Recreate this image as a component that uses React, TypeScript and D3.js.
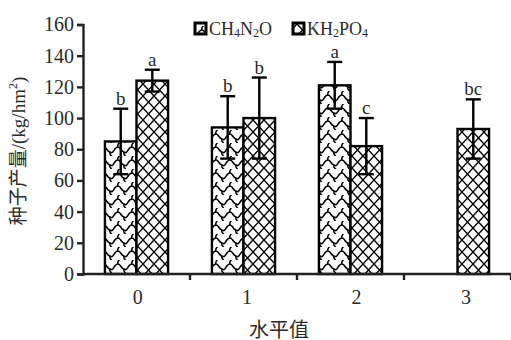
import React, { useEffect, useRef } from "react";
import * as d3 from "d3";

// data
const categories = ["0", "1", "2", "3"];
const seriesNames = ["CH4N2O", "KH2PO4"];
const ch4n2oMean = [85, 94, 121, null];
const ch4n2oSd = [21, 20, 15, null];
const ch4n2oLetters = ["b", "b", "a", ""];
const kh2po4Mean = [124, 100, 82, 93];
const kh2po4Sd = [7, 26, 18, 19];
const kh2po4Letters = ["a", "b", "c", "bc"];
const yTicks = [0, 20, 40, 60, 80, 100, 120, 140, 160];

const FONT = "'Liberation Serif', 'Noto Sans CJK SC', serif";
const INK = "#2b2b2b";

export default function App() {
  const svgRef = useRef<SVGSVGElement>(null);

  useEffect(() => {
    const svg = d3.select(svgRef.current);
    svg.selectAll("*").remove();

    const left = 83;
    const right = 511;
    const top = 24.5;
    const bottom = 274;

    const defs = svg.append("defs");

    // wavy "scale" fill for CH4N2O
    const wave = defs
      .append("pattern")
      .attr("id", "wave")
      .attr("patternUnits", "userSpaceOnUse")
      .attr("width", 14)
      .attr("height", 13);
    wave.append("rect").attr("width", 14).attr("height", 13).attr("fill", "#fff");
    wave
      .append("path")
      .attr(
        "d",
        "M-1,10 C2,10 2,4 6,4 C9,4 9,9 12,9 C13,9 14,10 15,10 M6,4 C5,2 7,0 8,-1 M12,9 C11,11 13,12 14,14 M-2,9 C-3,11 -1,12 0,14"
      )
      .attr("fill", "none")
      .attr("stroke", "#000")
      .attr("stroke-width", 1.5);

    // diamond crosshatch for KH2PO4
    const hatch = defs
      .append("pattern")
      .attr("id", "hatch")
      .attr("patternUnits", "userSpaceOnUse")
      .attr("width", 11)
      .attr("height", 12);
    hatch.append("rect").attr("width", 11).attr("height", 12).attr("fill", "#fff");
    hatch
      .append("path")
      .attr("d", "M0,0 L11,12 M11,0 L0,12")
      .attr("stroke", "#000")
      .attr("stroke-width", 1.4);

    const fills = ["url(#wave)", "url(#hatch)"];

    /* Scales */
    const x = d3.scaleBand().domain(categories).range([left, right]);
    const bw = x.bandwidth();
    const xInner = d3
      .scaleBand()
      .domain(seriesNames)
      .range([bw * 0.205, bw * 0.795]);
    const y = d3.scaleLinear().domain([0, 160]).range([bottom, top]);
    // tick labels in the original sit on a slightly wider spacing
    const xLabel = d3.scaleBand().domain(categories).range([left, left + 4 * 109.4]);

    const g = svg.append("g");

    const rows: any[] = [];
    categories.forEach((c, i) => {
      rows.push({ cat: c, s: seriesNames[0], mean: ch4n2oMean[i], sd: ch4n2oSd[i], letter: ch4n2oLetters[i], k: 0 });
      rows.push({ cat: c, s: seriesNames[1], mean: kh2po4Mean[i], sd: kh2po4Sd[i], letter: kh2po4Letters[i], k: 1 });
    });
    const data = rows.filter((d) => d.mean != null);

    // bars
    g.selectAll("rect.bar")
      .data(data)
      .join("rect")
      .attr("class", "bar")
      .attr("x", (d) => x(d.cat)! + xInner(d.s)!)
      .attr("y", (d) => y(d.mean))
      .attr("width", xInner.bandwidth())
      .attr("height", (d) => y(0) - y(d.mean))
      .attr("fill", (d) => fills[d.k])
      .attr("stroke", "#000")
      .attr("stroke-width", 2.4);

    // error bars
    const cx = (d: any) => x(d.cat)! + xInner(d.s)! + xInner.bandwidth() / 2;
    const eb = g.selectAll("g.err").data(data).join("g").attr("class", "err");
    eb.append("line")
      .attr("x1", cx)
      .attr("x2", cx)
      .attr("y1", (d) => y(d.mean - d.sd))
      .attr("y2", (d) => y(d.mean + d.sd))
      .attr("stroke", "#000")
      .attr("stroke-width", 2.4);
    [1, -1].forEach((sgn) => {
      eb.append("line")
        .attr("x1", (d) => cx(d) - 7.5)
        .attr("x2", (d) => cx(d) + 7.5)
        .attr("y1", (d) => y(d.mean + sgn * d.sd))
        .attr("y2", (d) => y(d.mean + sgn * d.sd))
        .attr("stroke", "#000")
        .attr("stroke-width", 2.4);
    });

    // significance letters
    g.selectAll("text.sig")
      .data(data)
      .join("text")
      .attr("class", "sig")
      .attr("x", cx)
      .attr("y", (d) => y(d.mean + d.sd) - 4)
      .attr("text-anchor", "middle")
      .attr("font-family", FONT)
      .attr("font-size", 19)
      .attr("fill", INK)
      .text((d) => d.letter);

    /* Axes */
    const yAxis = svg
      .append("g")
      .attr("transform", `translate(${left},0)`)
      .call(d3.axisLeft(y).tickValues(yTicks).tickSize(6).tickPadding(3));
    const xAxis = svg
      .append("g")
      .attr("transform", `translate(0,${bottom})`)
      .call(
        d3
          .axisBottom(x)
          .tickSize(0)
          .tickFormat(() => "")
      );
    [yAxis, xAxis].forEach((a) => {
      a.attr("font-family", FONT).attr("font-size", 20);
      a.select(".domain").attr("stroke", "#222").attr("stroke-width", 2.4);
      a.selectAll(".tick line").attr("stroke", "#222").attr("stroke-width", 2.4);
      a.selectAll("text").attr("fill", INK);
    });
    xAxis.select(".domain").attr("d", `M${left},0H${right}`);

    // x ticks between groups
    xAxis
      .selectAll("line.sep")
      .data(categories.slice(1).concat(["end"]))
      .join("line")
      .attr("class", "sep")
      .attr("x1", (d, i) => left + (i + 1) * bw)
      .attr("x2", (d, i) => left + (i + 1) * bw)
      .attr("y1", 0)
      .attr("y2", 6)
      .attr("stroke", "#222")
      .attr("stroke-width", 2.4);

    xAxis
      .selectAll("text.lab")
      .data(categories)
      .join("text")
      .attr("class", "lab")
      .attr("x", (d) => xLabel(d)! + xLabel.bandwidth() / 2)
      .attr("y", 30)
      .attr("text-anchor", "middle")
      .attr("fill", INK)
      .text((d) => d);

    // axis titles
    svg
      .append("text")
      .attr("x", 279)
      .attr("y", 337)
      .attr("text-anchor", "middle")
      .attr("font-family", FONT)
      .attr("font-size", 20)
      .attr("fill", INK)
      .text("水平值");

    const yt = svg
      .append("text")
      .attr("transform", "translate(25,151) rotate(-90)")
      .attr("text-anchor", "middle")
      .attr("font-family", FONT)
      .attr("font-size", 19)
      .attr("fill", INK);
    yt.append("tspan").text("种子产量/(kg/hm");
    yt.append("tspan").attr("font-size", 12).attr("dy", -8).text("2");
    yt.append("tspan").attr("dy", 8).text(")");

    // legend
    const legend = svg.append("g").attr("font-family", FONT).attr("font-size", 18).attr("fill", INK);
    const legendItems = [
      { x: 194, parts: [["CH", 0], ["4", 1], ["N", 0], ["2", 1], ["O", 0]] },
      { x: 292, parts: [["KH", 0], ["2", 1], ["PO", 0], ["4", 1]] },
    ];
    legendItems.forEach((it, k) => {
      legend
        .append("rect")
        .attr("x", it.x + 1)
        .attr("y", 23)
        .attr("width", 11)
        .attr("height", 11)
        .attr("fill", fills[k])
        .attr("stroke", "#000")
        .attr("stroke-width", 3);
      const t = legend.append("text").attr("x", it.x + 15).attr("y", 35);
      let sub = false;
      it.parts.forEach(([s, isSub]) => {
        const ts = t.append("tspan").text(s as string);
        if (isSub && !sub) {
          ts.attr("dy", 2).attr("font-size", 12);
          sub = true;
        } else if (isSub) {
          ts.attr("font-size", 12);
        } else if (sub) {
          ts.attr("dy", -2);
          sub = false;
        }
      });
    });
  }, []);

  return (
    <div style={{ position: "absolute", left: 0, top: 0 }}>
      <svg ref={svgRef} width={511} height={340} style={{ display: "block", background: "#fff" }} />
    </div>
  );
}
